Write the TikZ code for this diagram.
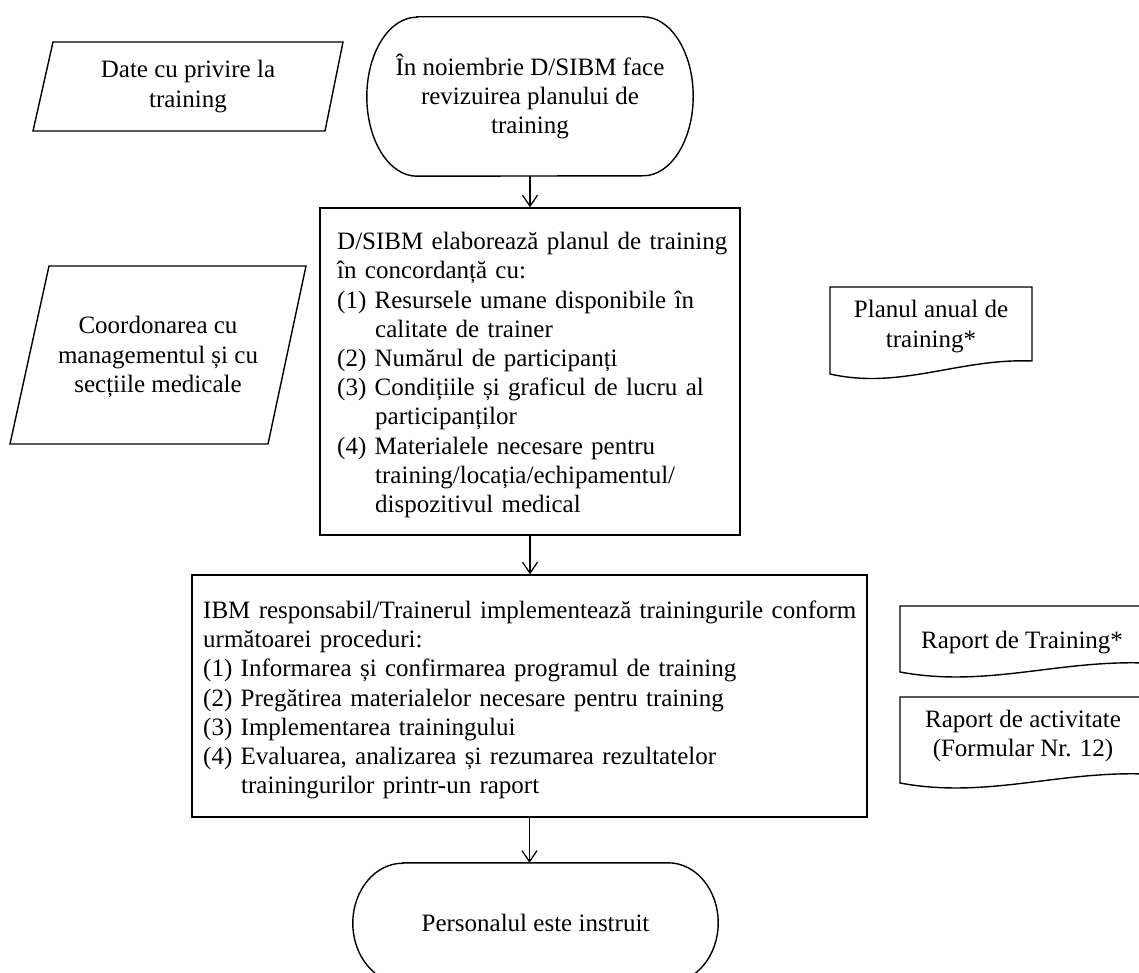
\documentclass[tikz,border=0pt]{standalone}
\usepackage{fontspec}
\setmainfont{Liberation Serif}
\usetikzlibrary{arrows.meta,calc}

% continuation line of a numbered step, set under the text after the number
\newcommand\contline{\hspace*{38pt}}

% flowchart "document" symbol: left, top, right, bottom-left y, rise of the right corner
\newcommand\docshape[5]{%
  \draw[outline] (#1,#2) -- (#3,#2) -- (#3,{#4-#5})
    .. controls ({#3-0.36*(#3-#1)},{#4-#5-3}) and ({#1+0.35*(#3-#1)},{#4+16}) .. (#1,#4) -- cycle;}

\tikzset{
  outline/.style={draw=black, line width=1.4pt, line join=miter},
  txt/.style={font=\fontsize{25}{29.2}\selectfont, inner sep=0pt, align=center},
  listtxt/.style={font=\fontsize{25}{29.2}\selectfont, inner sep=0pt, align=left,
                  anchor=west, text width=#1},
  flow/.style={line width=1.3pt, -{Straight Barb[length=11pt,width=15pt]}},
}

\begin{document}
\begin{tikzpicture}[x=1pt,y=-1pt]
  \fill[white] (0,0) rectangle (1139,973);
  \useasboundingbox (0,0) rectangle (1139,973);
  \clip (0,0) rectangle (1139,973);

  % start terminal
  \node[txt, minimum width=326pt, minimum height=159pt] (t1) at (530,96.5)
    {În noiembrie D/SIBM face\\revizuirea planului de\\training};
  \draw[outline] ([xshift=50pt]t1.north west) -- ([xshift=-50pt]t1.north east)
    arc[start angle=-90, end angle=90, x radius=50, y radius=79.5]
    -- ([xshift=50pt]t1.south west)
    arc[start angle=90, end angle=270, x radius=50, y radius=79.5] -- cycle;

  % input data
  \draw[outline] (53,42) -- (343,42) -- (325,131) -- (33,131) -- cycle;
  \node[txt] (in1) at (188,86.5) {Date cu privire la\\training};

  \draw[outline] (49,266) -- (306,266) -- (268,444) -- (10,444) -- cycle;
  \node[txt] (in2) at (158,357) {Coordonarea cu\\managementul și cu\\secțiile medicale};

  % planning step
  \node[outline, minimum width=420pt, minimum height=327pt, inner sep=0pt] (b2) at (530,371.5) {};
  \node[listtxt=400pt] (b2t) at (337,375) {%
    D/SIBM elaborează planul de training\\
    în concordanță cu:\\
    (1) Resursele umane disponibile în\\
    \contline calitate de trainer\\
    (2) Numărul de participanți\\
    (3) Condițiile și graficul de lucru al\\
    \contline participanților\\
    (4) Materialele necesare pentru\\
    \contline training/locația/echipamentul/\\
    \contline dispozitivul medical};

  % implementation step
  \node[outline, minimum width=675pt, minimum height=242pt, inner sep=0pt] (b3) at (529.5,696) {};
  \node[listtxt=665pt] (b3t) at (203,700) {%
    IBM responsabil/Trainerul implementează trainingurile conform\\
    următoarei proceduri:\\
    (1) Informarea și confirmarea programul de training\\
    (2) Pregătirea materialelor necesare pentru training\\
    (3) Implementarea trainingului\\
    (4) Evaluarea, analizarea și rezumarea rezultatelor\\
    \contline trainingurilor printr-un raport};

  % end terminal
  \node[txt, minimum width=365pt, minimum height=120pt] (t2) at (535.5,923)
    {Personalul este instruit};
  \draw[outline] ([xshift=50pt]t2.north west) -- ([xshift=-50pt]t2.north east)
    arc[start angle=-90, end angle=90, x radius=50, y radius=60]
    -- ([xshift=50pt]t2.south west)
    arc[start angle=90, end angle=270, x radius=50, y radius=60] -- cycle;

  % output documents
  \docshape{830}{287}{1032}{374}{13}
  \node[txt] (d1) at (931,326.5) {Planul anual de\\training*};

  \docshape{900}{606}{1145}{672}{9}
  \node[txt] (d2) at (1022,643) {Raport de Training*};

  \docshape{900}{697}{1145}{783}{9}
  \node[txt] (d3) at (1023,736) {Raport de activitate\\(Formular Nr. 12)};

  % flow
  \draw[flow] (t1.south) -- (b2.north);
  \draw[flow] (b2.south) -- (b2.south |- b3.north);
  \draw[flow] (b3.south) -- (b3.south |- t2.north);
\end{tikzpicture}
\end{document}
